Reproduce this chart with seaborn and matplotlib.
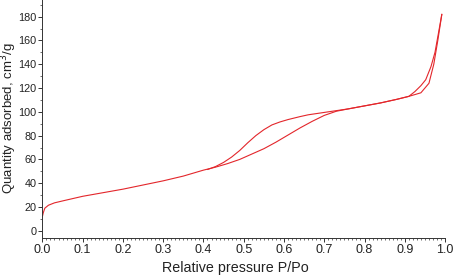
import numpy as np
import pandas as pd
import matplotlib
matplotlib.use("Agg")
import matplotlib.pyplot as plt
from matplotlib.ticker import MultipleLocator, FormatStrFormatter
import seaborn as sns

# adsorption branch (P/Po, cm3/g)
ads_p = [0.0, 0.002, 0.006, 0.015, 0.03, 0.055, 0.1, 0.15, 0.2, 0.25, 0.3, 0.35,
         0.4, 0.43, 0.46, 0.49, 0.52, 0.55, 0.58, 0.61, 0.64, 0.67, 0.70, 0.73,
         0.76, 0.8, 0.84, 0.88, 0.91, 0.94, 0.96, 0.972, 0.982, 0.992]
ads_q = [12, 15, 19, 21.5, 23.5, 25.5, 29, 32, 35, 38.5, 42, 46,
         51, 53.5, 56.5, 60, 64.5, 69, 74.5, 80.5, 86.5, 92, 97, 100.5,
         102.5, 105, 107.5, 110.5, 113, 116, 124, 140, 160, 182]

# desorption branch
des_p = [0.992, 0.983, 0.975, 0.965, 0.952, 0.94, 0.925, 0.91, 0.88, 0.84, 0.80,
         0.76, 0.72, 0.69, 0.66, 0.64, 0.61, 0.59, 0.57, 0.55, 0.53, 0.51, 0.49,
         0.47, 0.45, 0.43, 0.41]
des_q = [182, 165, 150, 138, 127, 122, 117, 113, 110.5, 107.5, 105,
         102.5, 100.5, 99, 97.5, 96, 93.5, 91.5, 89, 85, 80, 74, 67.5,
         62, 57.5, 54, 51.5]

sns.set_theme(style="ticks")
plt.rcParams['font.family'] = ['Liberation Sans', 'DejaVu Sans']

fig = plt.figure(figsize=(4.56, 2.77), dpi=100)
ax = fig.add_axes([0.093, 0.141, 0.883, 0.859])

line_color = "#e3262b"
sns.lineplot(x=ads_p, y=ads_q, sort=False, estimator=None, color=line_color,
             linewidth=0.8, ax=ax)
sns.lineplot(x=des_p, y=des_q, sort=False, estimator=None, color=line_color,
             linewidth=0.8, ax=ax)

ax.set_xlim(0, 1.0)
ax.set_ylim(-6, 194)
ax.xaxis.set_major_locator(MultipleLocator(0.1))
ax.xaxis.set_minor_locator(MultipleLocator(0.01))
ax.yaxis.set_major_locator(MultipleLocator(20))
ax.yaxis.set_minor_locator(MultipleLocator(10))
ax.xaxis.set_major_formatter(FormatStrFormatter('%.1f'))

ax.tick_params(which='major', length=3, width=0.7, pad=1.5,
               color='#333333', labelcolor='#222222')
ax.tick_params(axis='x', labelsize=9)
ax.tick_params(axis='y', labelsize=7.8, pad=1.2)
ax.tick_params(which='minor', length=1.5, width=0.5, color='#333333')
for s in ['top', 'right']:
    ax.spines[s].set_visible(False)
for s in ['left', 'bottom']:
    ax.spines[s].set_linewidth(0.7)
    ax.spines[s].set_color('#333333')

ax.set_xlabel("Relative pressure P/Po", fontsize=10.3, color='#222222')
ax.set_ylabel("Quantity adsorbed, cm$^3$/g", fontsize=9.5, color='#222222',
              va='center')
ax.xaxis.set_label_coords(0.48, -0.097)
ax.yaxis.set_label_coords(-0.0817, 0.502)

fig.savefig("out.png", dpi=100)
